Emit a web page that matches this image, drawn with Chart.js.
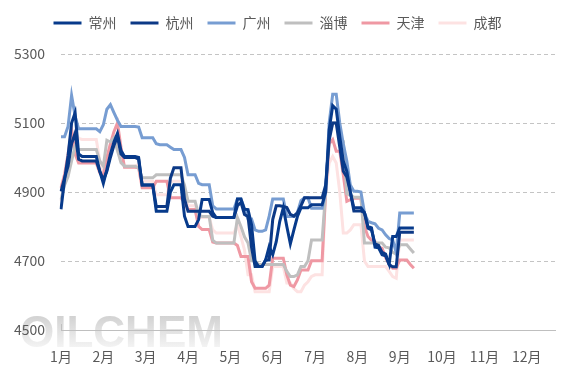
<!DOCTYPE html>
<html>
<head>
<meta charset="utf-8">
<script src="https://cdn.jsdelivr.net/npm/chart.js@4.4.1/dist/chart.umd.min.js"></script>
<style>
html, body { margin: 0; padding: 0; background: #fff; }
</style>
</head>
<body>
<canvas id="myChart" width="567" height="378"></canvas>
<script>
// month labels; the x axis runs in steps of ~2.5 days (12 per month)
const months = ['1月', '2月', '3月', '4月', '5月', '6月', '7月', '8月', '9月', '10月', '11月', '12月'];
const perMonth = 12;
const axisSteps = 141;

const changzhou = [4850, 4935, 5005, 5100, 5130, 5010, 5003, 5003, 5003, 5003,
    5003, 4960, 4925, 4965, 5010, 5045, 5070, 5020, 5003, 5003,
    5003, 5003, 5000, 4920, 4920, 4920, 4920, 4844, 4844, 4844,
    4844, 4900, 4921, 4921, 4921, 4830, 4800, 4800, 4800, 4820,
    4878, 4878, 4878, 4840, 4826, 4826, 4826, 4826, 4826, 4826,
    4880, 4880, 4850, 4849, 4805, 4700, 4684, 4684, 4703, 4742,
    4718, 4756, 4815, 4854, 4800, 4750, 4790, 4829, 4854, 4854,
    4854, 4863, 4863, 4863, 4863, 4900, 5080, 5150, 5140, 5060,
    4990, 4960, 4900, 4854, 4854, 4854, 4840, 4800, 4796, 4740,
    4738, 4718, 4715, 4690, 4771, 4771, 4796, 4796, 4796, 4796,
    4796];
const hangzhou = [4902, 4940, 4975, 5040, 5070, 4995, 4990, 4990, 4990, 4990,
    4990, 4960, 4935, 4960, 5000, 5035, 5060, 5010, 5000, 5000,
    5000, 5000, 4995, 4920, 4920, 4920, 4920, 4858, 4858, 4858,
    4858, 4940, 4970, 4970, 4970, 4880, 4844, 4844, 4844, 4844,
    4844, 4844, 4844, 4830, 4826, 4826, 4826, 4826, 4826, 4826,
    4860, 4870, 4835, 4829, 4740, 4684, 4684, 4684, 4703, 4703,
    4820, 4860, 4860, 4858, 4855, 4835, 4830, 4840, 4860, 4883,
    4883, 4883, 4883, 4883, 4883, 4920, 5050, 5100, 5100, 5030,
    4960, 4944, 4900, 4845, 4845, 4845, 4840, 4795, 4790, 4750,
    4745, 4725, 4720, 4690, 4683, 4683, 4783, 4783, 4783, 4783,
    4783];
const guangzhou = [5060, 5060, 5090, 5180, 5120, 5083, 5083, 5083, 5083, 5083,
    5083, 5075, 5095, 5140, 5153, 5130, 5108, 5090, 5090, 5090,
    5090, 5090, 5088, 5057, 5057, 5057, 5057, 5040, 5037, 5037,
    5037, 5030, 5023, 5023, 5023, 5000, 4950, 4950, 4950, 4925,
    4921, 4921, 4921, 4860, 4851, 4851, 4851, 4851, 4851, 4851,
    4880, 4880, 4850, 4822, 4822, 4790, 4786, 4786, 4790, 4830,
    4880, 4880, 4880, 4880, 4829, 4829, 4829, 4840, 4875, 4883,
    4883, 4853, 4853, 4853, 4853, 4900, 5100, 5183, 5183, 5100,
    5040, 4990, 4920, 4902, 4902, 4900, 4840, 4815, 4811, 4808,
    4795, 4790, 4776, 4765, 4761, 4724, 4839, 4839, 4839, 4839,
    4839];
const zibo = [4878, 4920, 4945, 4990, 5033, 5023, 5023, 5023, 5023, 5023,
    5023, 4990, 4975, 5050, 5045, 5057, 5020, 4985, 4975, 4975,
    4975, 4975, 4970, 4941, 4941, 4941, 4941, 4950, 4950, 4950,
    4950, 4950, 4950, 4950, 4950, 4920, 4873, 4873, 4873, 4835,
    4829, 4829, 4829, 4760, 4752, 4752, 4752, 4752, 4752, 4752,
    4826, 4800, 4770, 4752, 4701, 4701, 4690, 4690, 4690, 4690,
    4690, 4690, 4690, 4690, 4670, 4655, 4655, 4660, 4684, 4684,
    4701, 4761, 4761, 4761, 4761, 4900, 5060, 5100, 5100, 5060,
    5047, 4895, 4890, 4885, 4885, 4885, 4752, 4752, 4752, 4752,
    4752, 4752, 4740, 4738, 4725, 4720, 4747, 4747, 4747, 4735,
    4723];
const tianjin = [4912, 4950, 5010, 5080, 5010, 4984, 4984, 4984, 4984, 4984,
    4984, 4955, 4950, 5000, 5040, 5075, 5100, 5030, 4972, 4972,
    4972, 4972, 4970, 4912, 4912, 4912, 4912, 4931, 4931, 4931,
    4931, 4883, 4883, 4883, 4883, 4870, 4849, 4849, 4849, 4800,
    4791, 4791, 4791, 4755, 4752, 4752, 4752, 4752, 4752, 4752,
    4745, 4713, 4713, 4713, 4640, 4621, 4621, 4621, 4621, 4630,
    4708, 4708, 4708, 4708, 4660, 4630, 4626, 4645, 4674, 4674,
    4674, 4701, 4701, 4701, 4701, 4900, 5040, 5052, 5018, 5018,
    4950, 4873, 4878, 4882, 4882, 4882, 4800, 4771, 4760, 4756,
    4740, 4737, 4710, 4690, 4679, 4679, 4703, 4703, 4703, 4690,
    4679];
const chengdu = [4873, 4930, 4990, 5050, 5075, 5055, 5052, 5052, 5052, 5052,
    5052, 4990, 4945, 4990, 5025, 5060, 5060, 4990, 4975, 4975,
    4975, 4975, 4980, 4931, 4931, 4931, 4931, 4892, 4892, 4892,
    4892, 4931, 4931, 4931, 4931, 4900, 4860, 4860, 4860, 4826,
    4826, 4826, 4826, 4790, 4781, 4781, 4781, 4781, 4781, 4781,
    4805, 4770, 4732, 4660, 4660, 4611, 4611, 4611, 4611, 4611,
    4684, 4684, 4684, 4684, 4636, 4636, 4620, 4611, 4611, 4630,
    4640, 4655, 4660, 4660, 4660, 4900, 4984, 5003, 4984, 4900,
    4781, 4781, 4790, 4805, 4805, 4805, 4700, 4684, 4684, 4684,
    4684, 4684, 4684, 4670, 4655, 4650, 4761, 4761, 4761, 4761,
    4761];

const yTicks = [4500, 4700, 4900, 5100, 5300];

const labels = [];
for (let i = 0; i < axisSteps; i++) labels.push(i);

const font = '"Noto Sans CJK SC", "Noto Sans", sans-serif';

function line(name, data, color) {
    return {
        label: name,
        data: data,
        borderColor: color,
        backgroundColor: color,
        borderWidth: 3,
        pointRadius: 0,
        tension: 0,
        fill: false
    };
}

// adds some room under the legend
const legendGap = {
    id: 'legendGap',
    beforeInit(chart) {
        const fit = chart.legend.fit;
        chart.legend.fit = function () {
            fit.bind(chart.legend)();
            this.height += 14;
        };
    }
};

// OILCHEM watermark in the bottom left corner
const watermark = {
    id: 'watermark',
    beforeDraw(chart) {
        const ctx = chart.ctx;
        ctx.save();
        const g = ctx.createLinearGradient(0, 314, 0, 348);
        g.addColorStop(0, '#d0d0d0');
        g.addColorStop(1, '#f4f4f4');
        ctx.fillStyle = g;
        ctx.font = 'bold 44px "Liberation Sans", Arial, sans-serif';
        ctx.textBaseline = 'alphabetic';
        ctx.fillText('OILCHEM', 20, 347);
        ctx.restore();
    }
};

const ctx = document.getElementById('myChart');

new Chart(ctx, {
    type: 'line',
    data: {
        labels: labels,
        datasets: [
            line('常州', changzhou, '#073a8b'),
            line('杭州', hangzhou, '#0c3986'),
            line('广州', guangzhou, '#779dd2'),
            line('淄博', zibo, '#bfbfbf'),
            line('天津', tianjin, '#ef98a3'),
            line('成都', chengdu, '#fde2e2')
        ]
    },
    options: {
        responsive: false,
        animation: false,
        devicePixelRatio: 1,
        layout: { padding: { left: 0, right: 12, top: 2, bottom: 0 } },
        plugins: {
            legend: {
                position: 'top',
                labels: {
                    usePointStyle: true,
                    pointStyle: 'line',
                    pointStyleWidth: 28,
                    padding: 14,
                    color: '#595959',
                    font: { family: font, size: 14 }
                }
            },
            tooltip: { enabled: false }
        },
        scales: {
            x: {
                type: 'category',
                afterFit: s => { s.height = 48; },
                grid: {
                    drawOnChartArea: false,
                    drawTicks: true,
                    tickLength: -6,
                    color: c => (c.index % perMonth === 0 ? '#bfbfbf' : 'transparent')
                },
                border: { color: '#bfbfbf', width: 1 },
                ticks: {
                    autoSkip: false,
                    maxRotation: 0,
                    padding: 24,
                    color: '#595959',
                    font: { family: font, size: 14 },
                    callback: (v, i) => (i % perMonth === 0 ? months[i / perMonth] : null)
                }
            },
            y: {
                min: yTicks[0],
                max: yTicks[yTicks.length - 1],
                afterFit: s => { s.width = 61; },
                afterBuildTicks: s => { s.ticks = yTicks.map(v => ({ value: v })); },
                grid: {
                    drawTicks: false,
                    color: c => (c.tick && c.tick.value === yTicks[0] ? 'transparent' : '#c4c4c4')
                },
                border: { display: false, dash: [4, 3] },
                ticks: {
                    padding: 16,
                    color: '#595959',
                    font: { family: font, size: 14 },
                    callback: v => String(v)
                }
            }
        }
    },
    plugins: [legendGap, watermark]
});
</script>
</body>
</html>
